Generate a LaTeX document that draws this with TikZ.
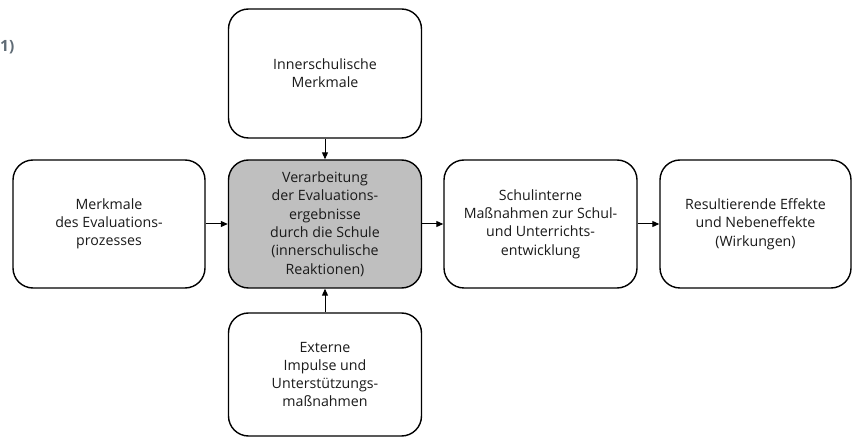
\documentclass[tikz,border=0pt]{standalone}
\usepackage{fontspec}
\setmainfont{Open Sans}
\usetikzlibrary{arrows.meta}
\definecolor{boxgray}{HTML}{BFBFBF}
\definecolor{txt}{HTML}{1A1A1A}
\definecolor{capgray}{HTML}{5F6B75}
\begin{document}
\begin{tikzpicture}[x=1pt,y=-1pt,
  box/.style={draw=black, line width=1.4pt, rounded corners=20pt, fill=white,
    align=center, text=txt, font=\fontsize{14.2}{18.3}\selectfont,
    inner sep=0pt, minimum width=#1},
  box/.default=193pt,
  conn/.style={-{Triangle[length=7pt,width=6pt]}, line width=1pt}]
\useasboundingbox (0,0) rectangle (855,438);
\node[anchor=west, inner sep=0pt, text=capgray, font=\fontsize{15.5}{17}\bfseries\selectfont] (cap) at (0,47.5) {1)};
\node[box, minimum height=129pt] (top) at (325,73.5) {Innerschulische\\Merkmale};
\node[box, minimum height=128pt, fill=boxgray] (mid) at (325,224) {Verarbeitung\\der Evaluations-\\ergebnisse\\durch die Schule\\(innerschulische\\Reaktionen)};
\node[box, minimum height=123pt] (bot) at (325,374.5) {Externe\\Impulse und\\Unterstützungs-\\maßnahmen};
\node[box=192pt, minimum height=128pt] (left) at (109,224) {Merkmale\\des Evaluations-\\prozesses};
\node[box, minimum height=128pt] (r1) at (540.5,224) {Schulinterne\\Maßnahmen zur Schul-\\und Unterrichts-\\entwicklung};
\node[box=191pt, minimum height=128pt] (r2) at (755.5,224) {Resultierende Effekte\\und Nebeneffekte\\(Wirkungen)};
\draw[conn] (top) -- (mid);
\draw[conn] (bot) -- (mid);
\draw[conn] (left) -- (mid);
\draw[conn] (mid) -- (r1);
\draw[conn] (r1) -- (r2);
\end{tikzpicture}
\end{document}
